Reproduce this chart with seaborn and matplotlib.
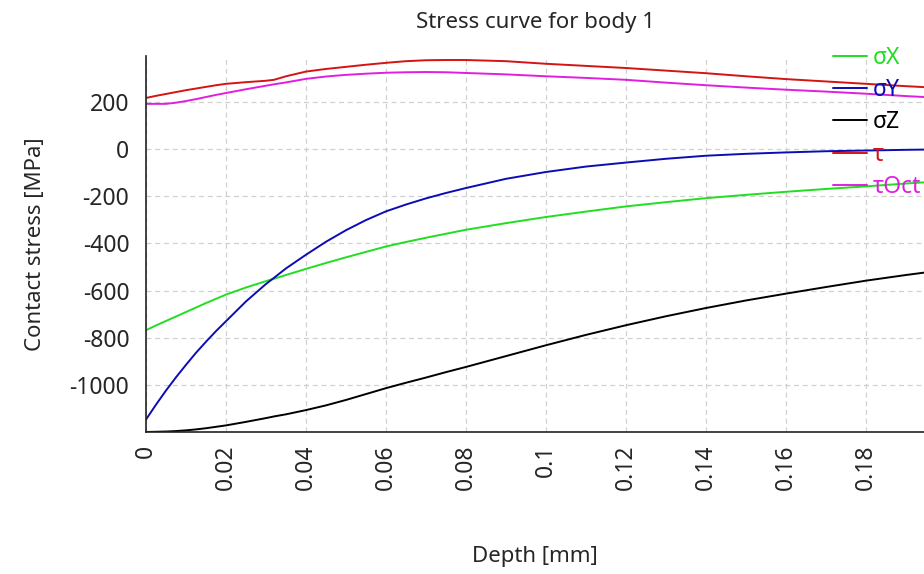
import pandas as pd
import seaborn as sns
import matplotlib.pyplot as plt
from matplotlib.ticker import FormatStrFormatter

# Values
depth = [0, 0.0025, 0.005, 0.0075, 0.01, 0.0125, 0.015, 0.0175, 0.02, 0.025,
         0.03, 0.032, 0.035, 0.04, 0.045, 0.05, 0.055, 0.06, 0.065, 0.07,
         0.075, 0.08, 0.09, 0.10, 0.11, 0.12, 0.13, 0.14, 0.15, 0.16,
         0.17, 0.18, 0.19, 0.1945]
sigma_x = [-768, -748, -729, -710, -691, -672, -653, -635, -617, -587,
           -560, -550, -534, -508, -483, -459, -436, -413, -394, -376,
           -359, -342, -314, -288, -265, -243, -225, -208, -194, -181,
           -169, -158, -146, -141]
sigma_y = [-1147, -1084, -1024, -968, -915, -864, -817, -772, -730, -646,
           -572, -546, -506, -448, -393, -344, -301, -264, -235, -209,
           -186, -165, -126, -97, -74, -57, -41, -28, -20, -14,
           -9, -6, -3, -2]
sigma_z = [-1200, -1199, -1198, -1196, -1193, -1189, -1184, -1178, -1172, -1157,
           -1141, -1134, -1125, -1107, -1087, -1064, -1039, -1014, -991, -969,
           -946, -924, -878, -832, -788, -747, -709, -674, -642, -613,
           -585, -558, -534, -524]
tau = [217, 226, 234, 242, 250, 257, 264, 271, 277, 284,
       290, 294, 309, 329, 340, 349, 358, 366, 373, 377,
       378, 378, 373, 362, 353, 344, 333, 322, 309, 297,
       287, 277, 267, 263]
tau_oct = [192, 192, 192, 197, 204, 212, 221, 230, 238, 254,
           269, 275, 283, 298, 308, 315, 320, 324, 326, 327,
           326, 323, 317, 309, 302, 294, 282, 271, 261, 252,
           244, 235, 225, 221]

series_names = ['σX', 'σY', 'σZ', 'τ', 'τOct']
colors = ['#22dd22', '#0c0cb4', '#000000', '#d41414', '#e01ee0']

x_ticks = [0, 0.02, 0.04, 0.06, 0.08, 0.10, 0.12, 0.14, 0.16, 0.18]
y_ticks = [-1000, -800, -600, -400, -200, 0, 200]

frames = []
for name, vals in zip(series_names, [sigma_x, sigma_y, sigma_z, tau, tau_oct]):
    frames.append(pd.DataFrame({'Depth': depth, 'Stress': vals, 'Series': name}))
df = pd.concat(frames, ignore_index=True)

sns.set_style('white')
plt.rcParams['font.family'] = ['Noto Sans', 'DejaVu Sans']
plt.rcParams['axes.unicode_minus'] = False

fig = plt.figure(figsize=(9.24, 5.74), dpi=100)
ax = fig.add_axes([146 / 924, 1 - 432 / 574, 1 - 146 / 924, (432 - 56) / 574])

sns.lineplot(data=df, x='Depth', y='Stress', hue='Series', hue_order=series_names,
             palette=dict(zip(series_names, colors)), estimator=None, sort=False,
             linewidth=1.4, ax=ax)

ax.set_xlim(0, 0.1945)
ax.set_ylim(-1200, 395)
ax.set_xticks(x_ticks)
ax.set_yticks(y_ticks)
ax.xaxis.set_major_formatter(FormatStrFormatter('%g'))
ax.tick_params(axis='x', labelrotation=90, labelsize=16.5, direction='inout',
               length=12, pad=3, color='#333333')
ax.tick_params(axis='y', labelsize=16.5, direction='inout', length=18, pad=3,
               color='#333333')
ax.grid(True, linestyle=(0, (4, 3)), color='#d0d0d0', linewidth=0.9)

for side in ['top', 'right']:
    ax.spines[side].set_visible(False)
for side in ['left', 'bottom']:
    ax.spines[side].set_color('#222222')
    ax.spines[side].set_linewidth(1.2)

ax.set_title('Stress curve for body 1', fontsize=16, pad=20)
ax.set_xlabel('Depth [mm]', fontsize=16, labelpad=40)
ax.set_ylabel('Contact stress [MPa]', fontsize=16, labelpad=17)

leg = ax.legend(loc='upper left', bbox_to_anchor=(833 / 924, 1 - 46 / 574),
                bbox_transform=fig.transFigure, frameon=False, fontsize=16.5,
                handlelength=1.5, handletextpad=0.22, labelspacing=0.36,
                borderpad=0, borderaxespad=0)
for text, c in zip(leg.get_texts(), colors):
    text.set_color(c)

fig.savefig('out.png', dpi=100)
